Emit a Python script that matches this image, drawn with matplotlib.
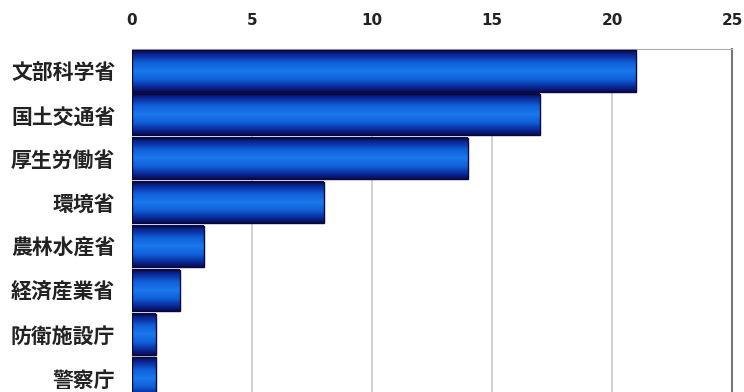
import numpy as np
import matplotlib
matplotlib.use("Agg")
import matplotlib.pyplot as plt
from matplotlib.colors import LinearSegmentedColormap

plt.rcParams['font.family'] = ['Noto Sans CJK JP', 'DejaVu Sans']

categories = ["文部科学省", "国土交通省", "厚生労働省", "環境省", "農林水産省", "経済産業省", "防衛施設庁", "警察庁"]
values = [21, 17, 14, 8, 3, 2, 1, 1]
xticks = [0, 5, 10, 15, 20, 25]

fig = plt.figure(figsize=(7.44, 3.92), dpi=100)
# axes extends below the bottom of the figure (chart is cropped)
ax = fig.add_axes([132/744, (392-400)/392, 600/744, 351/392])

y = np.arange(len(categories))
h = 0.94
bars = ax.barh(y, values, height=h, color='none', edgecolor='#0a0a3a', linewidth=1.0, zorder=3)

cmap = LinearSegmentedColormap.from_list('g', [
    (0.0, '#0b0b55'), (0.12, '#0a2a9a'), (0.3, '#1060d8'), (0.5, '#1a78ee'),
    (0.7, '#1060d8'), (0.88, '#0a2a9a'), (1.0, '#0b0b55')])
grad = np.linspace(0, 1, 64).reshape(-1, 1)
for b in bars:
    x0, y0 = b.get_x(), b.get_y()
    w, hh = b.get_width(), b.get_height()
    ax.imshow(grad, cmap=cmap, aspect='auto', extent=(x0, x0 + w, y0 + hh, y0), zorder=2, interpolation='bilinear')

ax.set_xlim(0, 25)
ax.set_ylim(len(categories) - 0.5, -0.5)
ax.set_yticks(y)
ax.set_yticklabels(categories, fontsize=15, fontweight='bold', color='#222222')
ax.set_xticks(xticks)
ax.set_xticklabels([str(t) for t in xticks], fontsize=11, fontweight='bold', family='DejaVu Sans', color='#222222')
ax.xaxis.tick_top()
ax.tick_params(axis='both', length=0)
ax.tick_params(axis='x', pad=15)
ax.tick_params(axis='y', pad=12)
ax.grid(axis='x', color='#c8c8c8', linewidth=1.2, zorder=1)
for s in ['left', 'bottom']:
    ax.spines[s].set_visible(False)
ax.spines['top'].set_color('#aaaaaa')
ax.spines['right'].set_color('#777777')
ax.spines['right'].set_linewidth(1.5)

fig.savefig('out.png', dpi=100)
